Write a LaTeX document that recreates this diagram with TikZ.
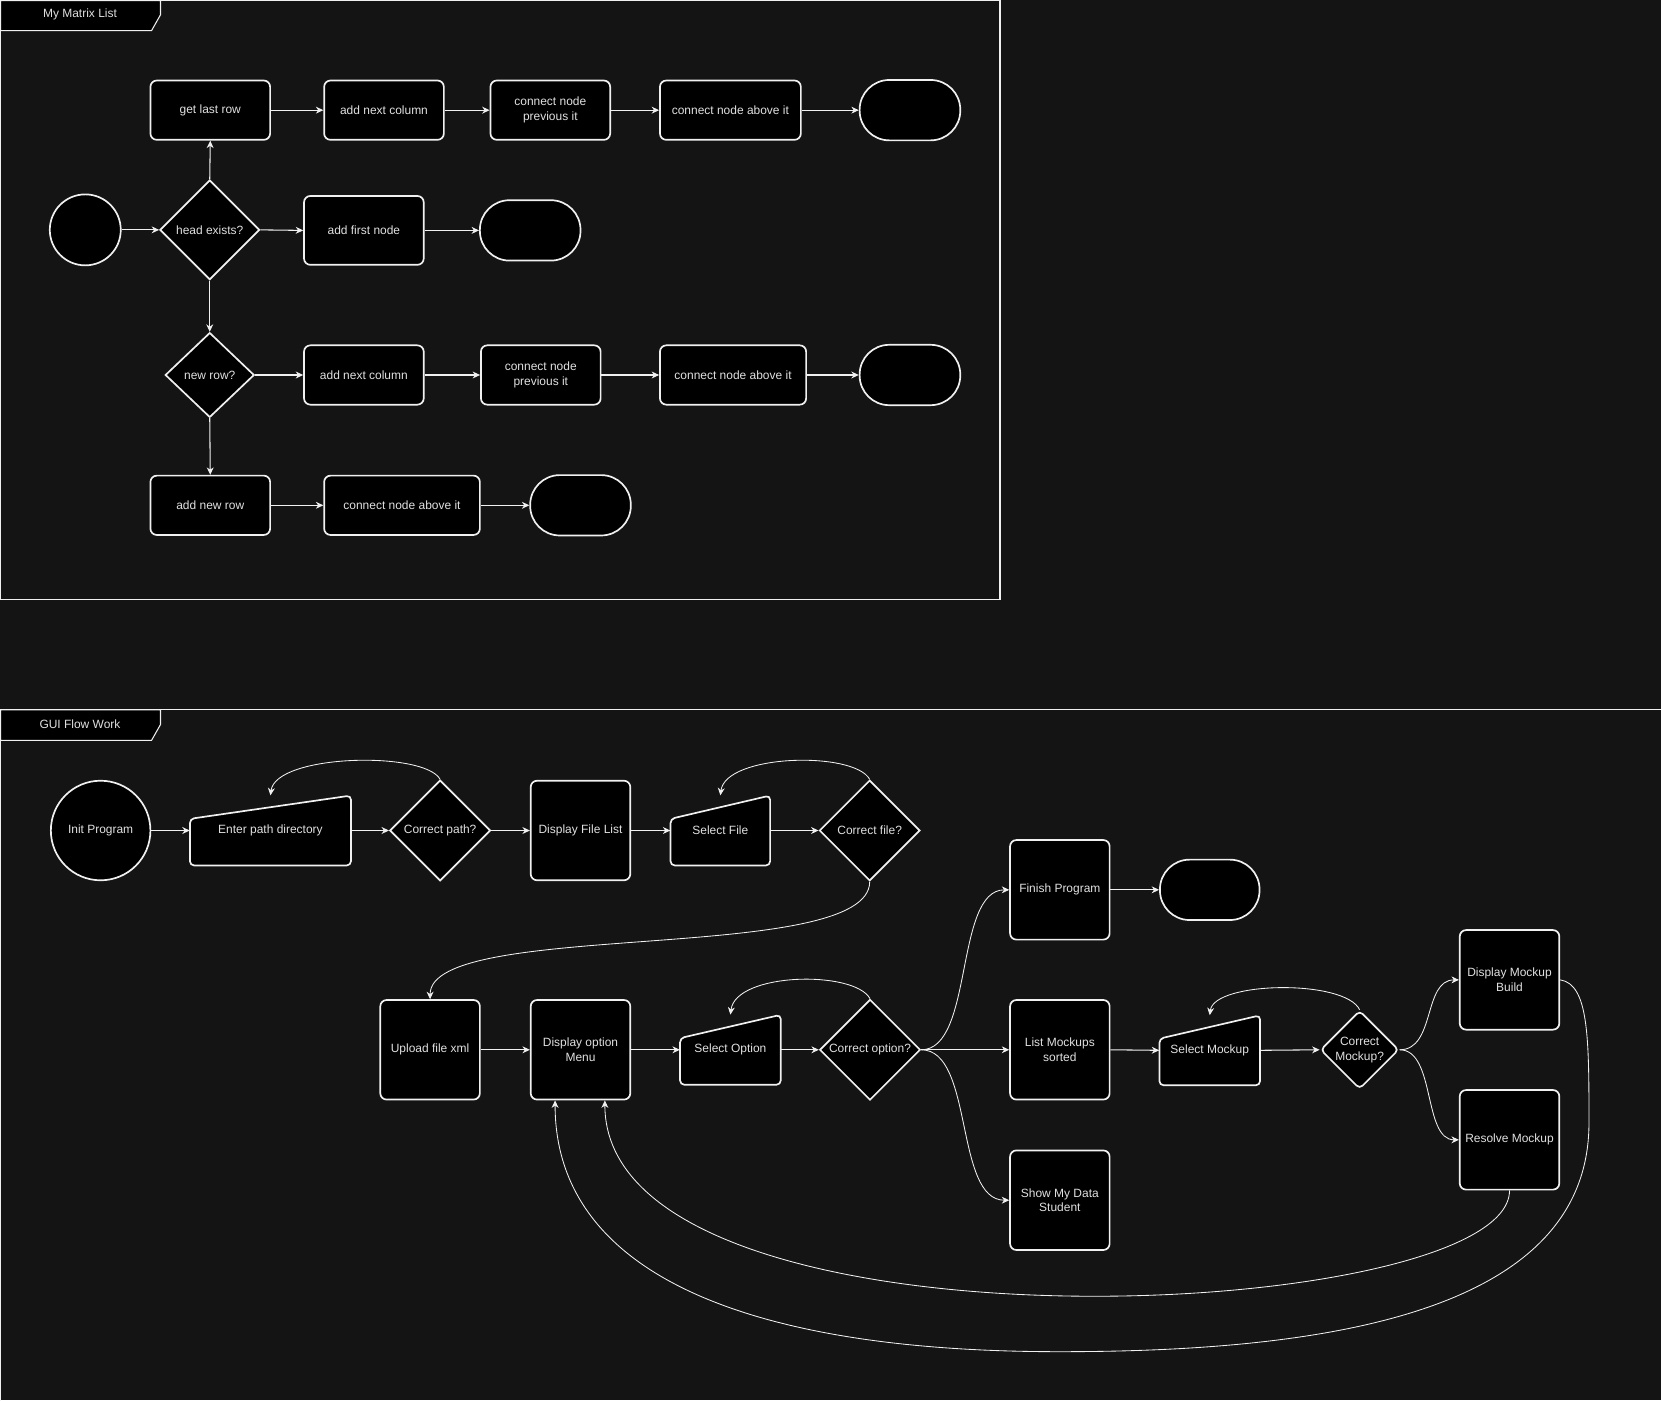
\documentclass[tikz,border=0pt]{standalone}
\usepackage{fontspec}
\setmainfont{Liberation Sans}
\usetikzlibrary{shapes.geometric,arrows.meta}
\definecolor{bgc}{RGB}{20,20,20}
\definecolor{fgc}{RGB}{240,240,240}
\definecolor{txc}{RGB}{224,224,224}
\newcommand\dfont{\fontsize{11.3}{14}\selectfont}
\newcommand\manin[5]{%
  \draw[mshape] ({#2-#4/2},{#3-11}) -- ({#2+#4/2},{#3-33}) -- ({#2+#4/2},{#3+33}) -- ({#2-#4/2},{#3+33}) -- cycle;
  \node[mtext, minimum width=#4pt, minimum height=66pt] (#1) at (#2,#3) {#5};
}
\begin{document}
\begin{tikzpicture}[x=1pt,y=-1pt,
  box/.style={draw=fgc, fill=black, line width=1.6pt, rounded corners=6pt, text=txc, align=center, inner sep=0pt, font=\dfont},
  gbox/.style={box, minimum width=94pt, minimum height=94pt},
  term/.style={box, rounded corners=28pt},
  dia/.style={draw=fgc, fill=black, line width=1.6pt, shape=diamond, aspect=1, inner sep=0pt, text=txc, align=center, font=\dfont},
  circ/.style={draw=fgc, fill=black, line width=1.6pt, circle, inner sep=0pt, text=txc, align=center, font=\dfont},
  mshape/.style={draw=fgc, fill=black, line width=1.6pt, rounded corners=4pt},
  mtext/.style={draw=none, inner sep=0pt, text=txc, align=center, font=\dfont},
  arr/.style={draw=fgc, line width=1pt, -{Stealth[length=7pt,width=6.5pt,inset=2.2pt]}},
  carr/.style={arr, line width=0.8pt},
  cont/.style={draw=fgc, line width=1pt},
  tabst/.style={draw=fgc, fill=black, line width=1pt},
  tabtxt/.style={text=txc, font=\dfont, inner sep=0pt}
]
\useasboundingbox (0,0) rectangle (1568,1322);
\fill[bgc] (0,0) rectangle (1568,1322);

% ---------- containers ----------
\draw[cont] (0.5,0.5) rectangle (944,566);
\filldraw[tabst] (0.5,0.5) -- (151.5,0.5) -- (151.5,14) -- (143,29) -- (0.5,29) -- cycle;
\node[tabtxt] (tab1) at (75.5,14) {My Matrix List};

\draw[cont] (0.5,1400) -- (0.5,670) -- (1600,670);
\filldraw[tabst] (0.5,670) -- (151.5,670) -- (151.5,684) -- (143,699) -- (0.5,699) -- cycle;
\node[tabtxt] (tab2) at (75.5,684) {GUI Flow Work};

% ---------- My Matrix List ----------
\node[box, minimum width=113pt, minimum height=56pt] (glr) at (198.5,104) {get last row};
\node[box, minimum width=113pt, minimum height=56pt] (anc1) at (362.5,104) {add next column};
\node[box, minimum width=113pt, minimum height=56pt] (cnp1) at (519.5,104) {connect node\\previous it};
\node[box, minimum width=133pt, minimum height=56pt] (cna1) at (689.5,104) {connect node above it};
\node[term, minimum width=95pt, minimum height=57pt] (t1) at (859,104) {};

\node[circ, minimum size=67pt] (st) at (80.5,217) {};
\node[dia, minimum width=94pt, minimum height=94pt] (he) at (198,217) {head exists?};
\node[box, minimum width=113pt, minimum height=65pt] (afn) at (343.5,217.5) {add first node};
\node[term, minimum width=95pt, minimum height=57pt] (t2) at (500.5,217.5) {};

\node[dia, minimum width=84pt, minimum height=80pt] (nr) at (198,354) {new row?};
\node[box, minimum width=113pt, minimum height=56pt] (anc2) at (343.5,354) {add next column};
\node[box, minimum width=113pt, minimum height=56pt] (cnp2) at (510.5,354) {connect node\\previous it};
\node[box, minimum width=138pt, minimum height=56pt] (cna2) at (692,354) {connect node above it};
\node[term, minimum width=95pt, minimum height=57pt] (t3) at (859,354) {};

\node[box, minimum width=113pt, minimum height=56pt] (anr) at (198.5,477) {add new row};
\node[box, minimum width=147pt, minimum height=56pt] (cna3) at (379.5,477) {connect node above it};
\node[term, minimum width=95pt, minimum height=57pt] (t4) at (548,477) {};

\draw[arr] (st.east) -- (he.west);
\draw[arr] (he.north) -- (glr.south);
\draw[arr] (glr.east) -- (anc1.west);
\draw[arr] (anc1.east) -- (cnp1.west);
\draw[arr] (cnp1.east) -- (cna1.west);
\draw[arr] (cna1.east) -- (t1.west);
\draw[arr] (he.east) -- (afn.west);
\draw[arr] (afn.east) -- (t2.west);
\draw[arr] (he.south) -- (nr.north);
\draw[arr] (nr.east) -- (anc2.west);
\draw[arr] (anc2.east) -- (cnp2.west);
\draw[arr] (cnp2.east) -- (cna2.west);
\draw[arr] (cna2.east) -- (t3.west);
\draw[arr] (nr.south) -- (anr.north);
\draw[arr] (anr.east) -- (cna3.west);
\draw[arr] (cna3.east) -- (t4.west);

% ---------- GUI Flow Work ----------
\node[circ, minimum size=94pt] (ip) at (95,784) {Init Program};
\manin{epd}{255.3}{784}{152}{Enter path directory}
\node[dia, minimum width=95pt, minimum height=95pt] (cp) at (415.5,784) {Correct path?};
\node[gbox] (dfl) at (548,784) {Display File List};
\manin{sf}{680}{784}{94}{Select File}
\node[dia, minimum width=95pt, minimum height=95pt] (cf) at (821,784) {Correct file?};

\node[gbox] (ufx) at (406,991) {Upload file xml};
\node[gbox] (dom) at (548,991) {Display option\\Menu};
\manin{so}{689.5}{991}{95}{Select Option}
\node[dia, minimum width=95pt, minimum height=95pt] (co) at (821.3,991) {Correct option?};

\node[gbox] (fp) at (1000.5,840) {Finish Program};
\node[term, minimum width=94pt, minimum height=57pt] (t5) at (1142,840) {};
\node[gbox] (lms) at (1000.5,991) {List Mockups\\sorted};
\node[gbox] (smd) at (1000.5,1133) {Show My Data\\Student};
\manin{sm}{1142}{991.5}{95}{Select Mockup}
\node[dia, rounded corners=4pt, minimum width=74pt, minimum height=74pt] (cm) at (1283.5,991) {Correct\\Mockup?};
\node[gbox] (dmb) at (1425,925) {Display Mockup\\Build};
\node[gbox] (rm) at (1425,1076) {Resolve Mockup};

\coordinate (w1) at (1500,1060);
\coordinate (w2) at (1000,1276);

\draw[arr] (ip.east) -- (epd.west);
\draw[arr] (epd.east) -- (cp.west);
\draw[arr] (cp.east) -- (dfl.west);
\draw[arr] (dfl.east) -- (sf.west);
\draw[arr] (sf.east) -- (cf.west);
\draw[carr] (cp.north) .. controls +(-15,-27) and +(5,-39) .. (epd.north);
\draw[carr] (cf.north) .. controls +(-15,-27) and +(5,-39) .. (sf.north);
\draw[carr] (cf.south) .. controls +(0,79) and +(0,-76) .. (ufx.north);

\draw[arr] (ufx.east) -- (dom.west);
\draw[arr] (dom.east) -- (so.west);
\draw[arr] (so.east) -- (co.west);
\draw[carr] (co.north) .. controls +(-15,-27) and +(5,-40) .. (so.north);
\draw[arr] (co.east) -- (lms.west);
\draw[carr] (co.east) .. controls +(50,0) and +(-52,0) .. (fp.west);
\draw[carr] (co.east) .. controls +(50,0) and +(-52,0) .. (smd.west);
\draw[arr] (fp.east) -- (t5.west);
\draw[arr] (lms.east) -- (sm.west);
\draw[arr] (sm.east) -- (cm.west);
\draw[carr] (cm.north) .. controls +(-14,-29) and +(4,-32) .. (sm.north);
\draw[carr] (cm.east) .. controls +(34,0) and +(-34,0) .. (dmb.west);
\draw[carr] (cm.east) .. controls +(34,0) and +(-34,0) .. (rm.west);

\draw[carr] (rm.south) .. controls +(0,126) and +(0,251) .. ([xshift=23pt]dom.south);
\draw[carr] (dmb.east) .. controls +(27,4) and +(0,-80) .. (w1)
  .. controls +(0,180) and +(250,0) .. (w2)
  .. controls +(-300,0) and +(0,161) .. ([xshift=-24pt]dom.south);
\end{tikzpicture}
\end{document}
